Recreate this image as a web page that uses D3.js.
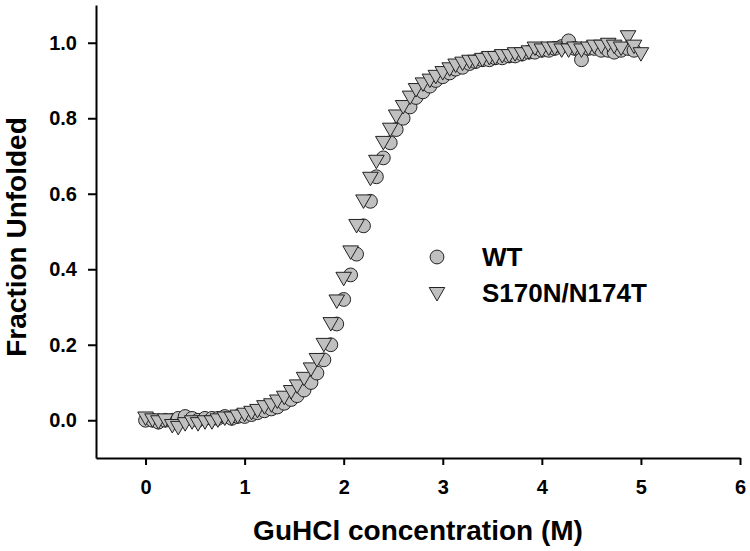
<!DOCTYPE html>
<html>
<head>
<meta charset="utf-8">
<script src="https://cdn.jsdelivr.net/npm/d3@7"></script>
<style>
    body { margin: 0; background: #fff; }
    svg { font-family: "Liberation Sans", Arial, sans-serif; }
</style>
</head>
<body>
<svg id="visualisation" width="750" height="551"></svg>
<script>
// GuHCl concentration (M)
var concWT = [0, 0.07, 0.13, 0.2, 0.27, 0.33, 0.4, 0.47, 0.53, 0.6, 0.67, 0.73, 0.8, 0.87, 0.93,
    1.0, 1.07, 1.13, 1.2, 1.27, 1.33, 1.4, 1.47, 1.53, 1.6, 1.67, 1.73, 1.8, 1.87, 1.93,
    2.0, 2.07, 2.13, 2.2, 2.27, 2.33, 2.4, 2.47, 2.53, 2.6, 2.67, 2.73, 2.8, 2.87, 2.93,
    3.0, 3.07, 3.13, 3.2, 3.27, 3.33, 3.4, 3.47, 3.53, 3.6, 3.67, 3.73, 3.8, 3.87, 3.93,
    4.0, 4.07, 4.13, 4.2, 4.27, 4.33, 4.4, 4.47, 4.53, 4.6, 4.67, 4.73, 4.8, 4.87, 4.93];
var fracWT = [0.0, 0.0, -0.005, 0.0, 0.0, 0.005, 0.01, 0.005, 0.0, 0.005, 0.005, 0.005, 0.01, 0.005, 0.01,
    0.01, 0.015, 0.02, 0.025, 0.03, 0.035, 0.045, 0.055, 0.065, 0.08, 0.1, 0.125, 0.16, 0.2, 0.255,
    0.32, 0.385, 0.44, 0.515, 0.58, 0.645, 0.695, 0.735, 0.77, 0.8, 0.83, 0.855, 0.87, 0.885, 0.9,
    0.91, 0.92, 0.93, 0.935, 0.945, 0.95, 0.955, 0.955, 0.96, 0.96, 0.965, 0.965, 0.97, 0.975, 0.975,
    0.98, 0.98, 0.985, 0.99, 1.005, 0.985, 0.955, 0.985, 0.985, 0.98, 0.98, 0.975, 0.98, 0.985, 0.98];

var concMut = [0, 0.07, 0.13, 0.2, 0.27, 0.33, 0.4, 0.47, 0.53, 0.6, 0.67, 0.73, 0.8, 0.87, 0.93,
    1.0, 1.07, 1.13, 1.2, 1.27, 1.33, 1.4, 1.47, 1.53, 1.6, 1.67, 1.73, 1.8, 1.87, 1.93,
    2.0, 2.07, 2.13, 2.2, 2.27, 2.33, 2.4, 2.47, 2.53, 2.6, 2.67, 2.73, 2.8, 2.87, 2.93,
    3.0, 3.07, 3.13, 3.2, 3.27, 3.33, 3.4, 3.47, 3.53, 3.6, 3.67, 3.73, 3.8, 3.87, 3.93,
    4.0, 4.07, 4.13, 4.2, 4.27, 4.33, 4.4, 4.47, 4.53, 4.6, 4.67, 4.73, 4.8, 4.87, 4.93, 5.0];
var fracMut = [0.01, 0.005, 0.0, 0.005, -0.01, -0.015, -0.005, 0.0, -0.005, 0.0, 0.0, 0.005, 0.01, 0.01, 0.015,
    0.02, 0.025, 0.03, 0.04, 0.045, 0.055, 0.065, 0.08, 0.095, 0.115, 0.14, 0.165, 0.205, 0.26, 0.32,
    0.38, 0.45, 0.52, 0.585, 0.645, 0.69, 0.74, 0.775, 0.81, 0.835, 0.86, 0.88, 0.895, 0.905, 0.915,
    0.925, 0.935, 0.945, 0.95, 0.955, 0.955, 0.96, 0.965, 0.965, 0.97, 0.97, 0.975, 0.975, 0.98, 0.99,
    0.985, 0.99, 0.99, 0.985, 0.985, 0.99, 0.985, 0.99, 0.995, 0.995, 1.0, 0.995, 0.99, 1.02, 0.995, 0.975];

var xTicks = [0, 1, 2, 3, 4, 5, 6];
var yTicks = [0.0, 0.2, 0.4, 0.6, 0.8, 1.0];
var seriesNames = ["WT", "S170N/N174T"];

function InitChart() {
    var vis = d3.select("#visualisation"),
        xScale = d3.scaleLinear().domain([-0.5, 6]).range([96, 740]),
        yScale = d3.scaleLinear().domain([-0.1, 1.1]).range([458, 5]),
        xAxis = d3.axisBottom(xScale).tickValues(xTicks).tickFormat(d3.format("d"))
            .tickSize(7).tickSizeOuter(0).tickPadding(15),
        yAxis = d3.axisLeft(yScale).tickValues(yTicks).tickFormat(d3.format(".1f"))
            .tickSize(8).tickSizeOuter(0).tickPadding(11);

    var gx = vis.append("g")
        .attr("transform", "translate(0," + yScale(-0.1) + ")")
        .call(xAxis);
    var gy = vis.append("g")
        .attr("transform", "translate(" + xScale(-0.5) + ",0)")
        .call(yAxis);

    [gx, gy].forEach(function(g) {
        g.selectAll("path, line").attr("stroke", "#000").attr("stroke-width", 2);
        g.selectAll("text")
            .attr("fill", "#000")
            .style("font-size", "20px")
            .style("font-weight", "bold")
            .style("font-family", "'Liberation Sans', Arial, sans-serif");
    });

    // axis titles
    vis.append("text")
        .attr("x", (xScale(-0.5) + xScale(6)) / 2)
        .attr("y", 540)
        .attr("text-anchor", "middle")
        .style("font-size", "28px")
        .style("font-weight", "bold")
        .text("GuHCl concentration (M)");
    vis.append("text")
        .attr("transform", "translate(26," + 237 + ") rotate(-90)")
        .attr("text-anchor", "middle")
        .style("font-size", "28px")
        .style("font-weight", "bold")
        .text("Fraction Unfolded");

    var circle = d3.symbol().type(d3.symbolCircle).size(150);
    var tri = d3.symbol().type(d3.symbolTriangle).size(105);

    // WT first, mutant drawn over it
    vis.append("g").selectAll("path")
        .data(d3.zip(concWT, fracWT))
        .enter().append("path")
        .attr("d", circle)
        .attr("transform", function(d) { return "translate(" + xScale(d[0]) + "," + yScale(d[1]) + ")"; })
        .attr("fill", "#c0c0c0")
        .attr("stroke", "#222")
        .attr("stroke-width", 1);

    vis.append("g").selectAll("path")
        .data(d3.zip(concMut, fracMut))
        .enter().append("path")
        .attr("d", tri)
        .attr("transform", function(d) { return "translate(" + xScale(d[0]) + "," + yScale(d[1]) + ") rotate(180)"; })
        .attr("fill", "#c0c0c0")
        .attr("stroke", "#222")
        .attr("stroke-width", 1);

    // legend
    var leg = vis.append("g");
    leg.append("path").attr("d", circle)
        .attr("transform", "translate(437,257)")
        .attr("fill", "#c0c0c0").attr("stroke", "#222");
    leg.append("path").attr("d", tri)
        .attr("transform", "translate(437,292) rotate(180)")
        .attr("fill", "#c0c0c0").attr("stroke", "#222");
    leg.selectAll("text")
        .data(seriesNames)
        .enter().append("text")
        .attr("x", 482)
        .attr("y", function(d, i) { return 266 + i * 36; })
        .style("font-size", "26px")
        .style("font-weight", "bold")
        .text(function(d) { return d; });
}
InitChart();
</script>
</body>
</html>
